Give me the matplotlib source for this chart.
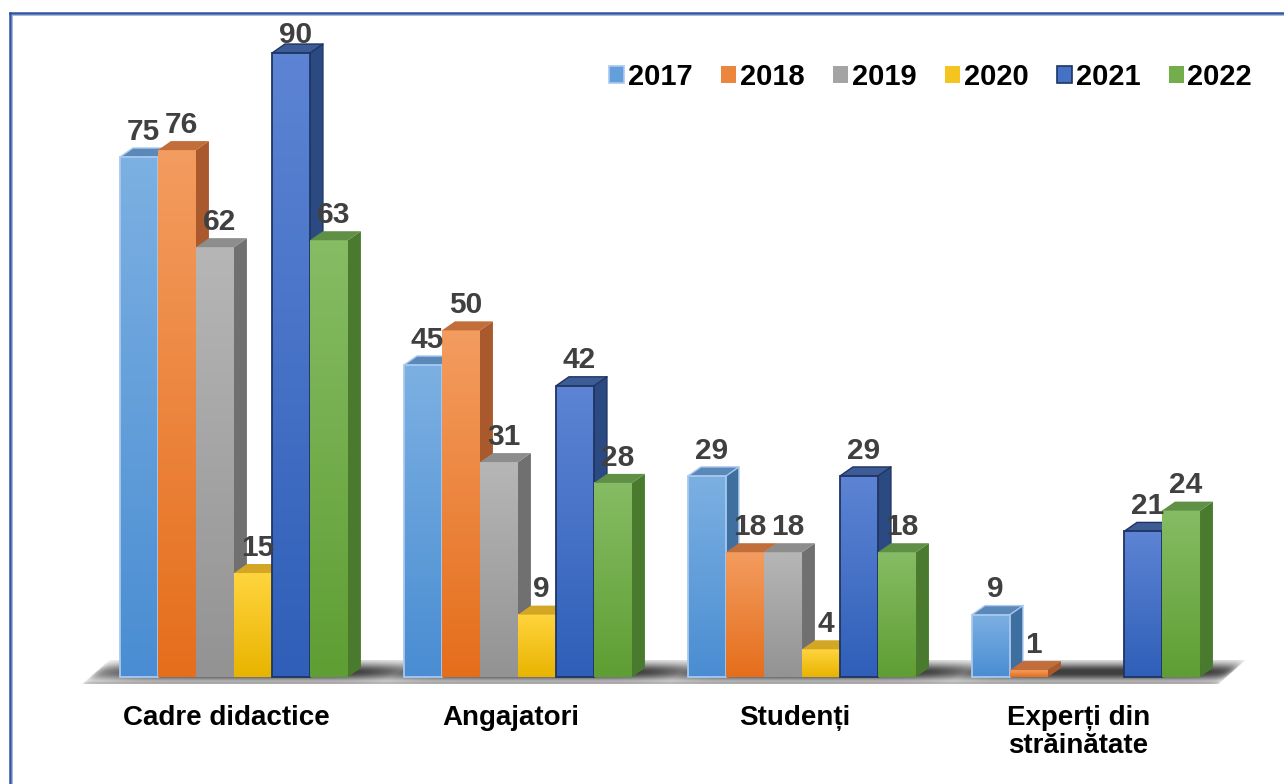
import numpy as np
import matplotlib
matplotlib.use("Agg")
import matplotlib.pyplot as plt
from matplotlib.patches import Polygon, Rectangle, Patch
from matplotlib.lines import Line2D
from matplotlib.colors import to_rgb

# ---- data -------------------------------------------------------------
categories = ["Cadre didactice", "Angajatori", "Studenți", "Experți din\nstrăinătate"]
years = ["2017", "2018", "2019", "2020", "2021", "2022"]
v2017 = [75, 45, 29, 9]
v2018 = [76, 50, 18, 1]
v2019 = [62, 31, 18, None]
v2020 = [15, 9, 4, None]
v2021 = [90, 42, 29, 21]
v2022 = [63, 28, 18, 24]
series = [v2017, v2018, v2019, v2020, v2021, v2022]

# ---- styling per series: front gradient (top, bottom), side, top face, edge
styles = [
    dict(ft="#7cb0e2", fb="#4a8dd2", side="#3f6f9f", top="#5a88b8", edge="#a9c9ef"),
    dict(ft="#f39c5f", fb="#e56e1c", side="#a9592b", top="#c26e3a", edge=None),
    dict(ft="#b6b6b6", fb="#939393", side="#707070", top="#8d8d8d", edge=None),
    dict(ft="#ffd43e", fb="#e9b400", side="#b88f0c", top="#d3a624", edge=None),
    dict(ft="#5d84d4", fb="#2f5fb8", side="#2c4a82", top="#3d5b94", edge="#1f3463"),
    dict(ft="#86bc64", fb="#5f9e33", side="#4a7a2d", top="#5f9046", edge=None),
]

FONT = "Liberation Sans"

# ---- geometry (x unit = one bar width, y unit = one data unit) -----------
BAR_W = 1.0
GROUP_STEP = 7.474
DX, DY = 0.34, 1.3          # oblique depth of the 3-D boxes
LABEL_PAD = 1.2             # gap between box top and its value label
LABEL_CEIL = 91.4           # labels are kept below this level

fig = plt.figure(figsize=(12.84, 7.84), dpi=100)
ax = fig.add_axes([0, 0, 1, 1])
ax.set_xlim(-3.158, 30.632)
ax.set_ylim(-15.43, 97.65)
ax.set_autoscale_on(False)
ax.axis("off")


def grad_column(c_top, c_bot, n=64):
    a, b = np.array(to_rgb(c_top)), np.array(to_rgb(c_bot))
    t = np.linspace(0, 1, n)[:, None]
    return (a * (1 - t) + b * t)[:, None, :]


# ---- floor with soft shadow ---------------------------------------------
n_groups = len(categories)
group_starts = [g * GROUP_STEP for g in range(n_groups)]
fl = group_starts[0] - 1.0
fr = group_starts[-1] + len(years) * BAR_W + 0.5
y_front, y_back, shear = -1.0, 2.4, 0.71

xs = np.linspace(fl, fr + shear, 1000)
ys = np.linspace(y_front, y_back, 100)
X, Y = np.meshgrid(xs, ys)
T = (Y - y_front) / (y_back - y_front)
XF = X - T * shear


def smooth_box(x, a, b, w):
    return 0.5 * (np.tanh((x - a) / w) - np.tanh((x - b) / w))


foot = np.zeros_like(XF)
for gs in group_starts:
    foot = np.maximum(foot, smooth_box(XF, gs - 0.4, gs + len(years) * BAR_W + 0.8, 0.9))
foot = 0.45 + 0.55 * foot
foot *= smooth_box(XF, fl, fr, 0.15)
prof = np.exp(-((T - 0.5) / 0.38) ** 2)
dark = 1.05 * foot * prof
band = 0.25 * np.exp(-((T - 0.03) / 0.06) ** 2) * smooth_box(XF, fl, fr, 0.1)
alpha = np.clip(dark + band, 0, 1)
inside = (XF >= fl) & (XF <= fr)
alpha[~inside] = 0
rgba = np.zeros(X.shape + (4,))
rgba[..., :3] = 0.25
rgba[..., 3] = alpha
ax.imshow(rgba, extent=[xs[0], xs[-1], ys[0], ys[-1]], origin="lower",
          aspect="auto", interpolation="bilinear", zorder=1)

# ---- 3-D bars -------------------------------------------------------------
z = 2
for g in range(n_groups):
    for s, vals in enumerate(series):
        v = vals[g]
        if v is None:
            continue
        st = styles[s]
        x0 = group_starts[g] + s * BAR_W
        x1 = x0 + BAR_W
        # front face with vertical gradient
        ax.imshow(grad_column(st["ft"], st["fb"]), extent=[x0, x1, 0, v],
                  origin="upper", aspect="auto", interpolation="bilinear", zorder=z)
        # right side face
        ax.add_patch(Polygon([(x1, 0), (x1 + DX, DY), (x1 + DX, v + DY), (x1, v)],
                             closed=True, facecolor=st["side"], edgecolor="none", zorder=z))
        # top face
        ax.add_patch(Polygon([(x0, v), (x0 + DX, v + DY), (x1 + DX, v + DY), (x1, v)],
                             closed=True, facecolor=st["top"], edgecolor="none", zorder=z))
        if st["edge"]:
            ax.add_patch(Rectangle((x0, 0), BAR_W, v, fill=False,
                                   edgecolor=st["edge"], linewidth=1.3, zorder=z + 0.1))
            ax.add_patch(Polygon([(x0, v), (x0 + DX, v + DY), (x1 + DX, v + DY),
                                  (x1 + DX, DY), (x1, 0)], closed=False, fill=False,
                                 edgecolor=st["edge"], linewidth=1.0, zorder=z + 0.1))
            ax.plot([x1, x1 + DX], [v, v + DY], color=st["edge"], lw=1.0, zorder=z + 0.1)
        z += 1

# ---- value labels ---------------------------------------------------------
for g in range(n_groups):
    for s, vals in enumerate(series):
        v = vals[g]
        if v is None:
            continue
        x0 = group_starts[g] + s * BAR_W
        ly = min(v + DY + LABEL_PAD, LABEL_CEIL)
        ax.text(x0 + BAR_W / 2 + 0.12, ly, f"{v}", ha="center", va="baseline",
                fontsize=21.5, fontweight="bold", color="#404040", family=FONT, zorder=100)

# ---- category labels ------------------------------------------------------
for g, name in enumerate(categories):
    cx = group_starts[g] + len(years) * BAR_W / 2 - 0.2
    ax.text(cx, -4.1, name, ha="center", va="top", fontsize=20, fontweight="bold",
            color="black", family=FONT, linespacing=1.1, zorder=100)

# ---- legend ---------------------------------------------------------------
handles = []
for s, yr in enumerate(years):
    st = styles[s]
    mid = tuple((np.array(to_rgb(st["ft"])) + np.array(to_rgb(st["fb"]))) / 2)
    handles.append(Patch(facecolor=mid, edgecolor=st["edge"] or mid,
                         linewidth=1.2 if st["edge"] else 0, label=yr))
leg = fig.legend(handles=handles, loc="center right", ncol=6,
                 bbox_to_anchor=(1252 / 1284, 1 - 77 / 784), frameon=False,
                 prop=dict(family=FONT, weight="bold", size=21),
                 handlelength=0.52, handleheight=0.52, handletextpad=0.12,
                 columnspacing=0.98, borderpad=0, borderaxespad=0)

# ---- frame lines along the top and left edges ----------------------------
W, H = 1284, 784
fig.add_artist(Line2D([9.5 / W, 9.5 / W], [0, 1 - 13 / H], color="#2f55a0", lw=1.8,
                      transform=fig.transFigure))
fig.add_artist(Line2D([9.5 / W, 1], [1 - 13 / H, 1 - 13 / H], color="#2f55a0", lw=1.8,
                      transform=fig.transFigure))
fig.add_artist(Line2D([11.8 / W, 11.8 / W], [0, 1 - 15.3 / H], color="#a7b8dc", lw=0.7,
                      transform=fig.transFigure))
fig.add_artist(Line2D([11.8 / W, 1], [1 - 15.3 / H, 1 - 15.3 / H], color="#a7b8dc", lw=0.7,
                      transform=fig.transFigure))

fig.savefig("out.png", dpi=100, facecolor="white")
